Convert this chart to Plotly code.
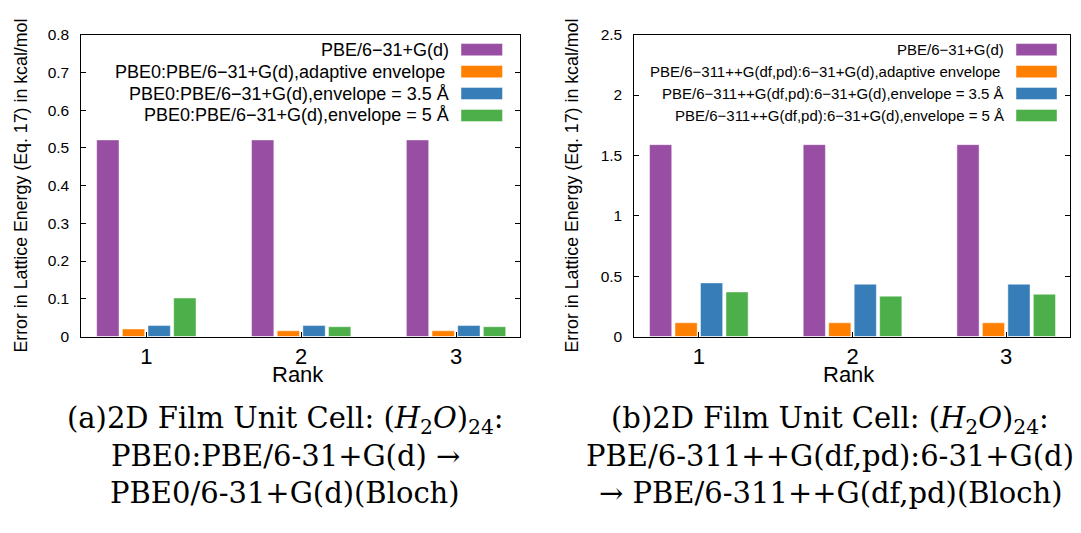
import plotly.graph_objects as go

W, H = 1081, 533

# ---------------- data ----------------
ranks = [1, 2, 3]

left_names = [
    "PBE/6\u221231+G(d)",
    "PBE0:PBE/6\u221231+G(d),adaptive envelope",
    "PBE0:PBE/6\u221231+G(d),envelope = 3.5 \u00c5",
    "PBE0:PBE/6\u221231+G(d),envelope = 5 \u00c5",
]
left_pbe = [0.521, 0.521, 0.521]
left_adaptive = [0.020, 0.015, 0.015]
left_env35 = [0.029, 0.029, 0.029]
left_env5 = [0.102, 0.026, 0.026]

right_names = [
    "PBE/6\u221231+G(d)",
    "PBE/6\u2212311++G(df,pd):6\u221231+G(d),adaptive envelope",
    "PBE/6\u2212311++G(df,pd):6\u221231+G(d),envelope = 3.5 \u00c5",
    "PBE/6\u2212311++G(df,pd):6\u221231+G(d),envelope = 5 \u00c5",
]
right_pbe = [1.589, 1.589, 1.589]
right_adaptive = [0.113, 0.113, 0.113]
right_env35 = [0.444, 0.433, 0.433]
right_env5 = [0.369, 0.334, 0.350]

y_title = "Error in Lattice Energy (Eq. 17) in kcal/mol"
x_title = "Rank"
left_ticks = [0, 0.1, 0.2, 0.3, 0.4, 0.5, 0.6, 0.7, 0.8]
right_ticks = [0, 0.5, 1, 1.5, 2, 2.5]

caption_left = [
    "(a)2D Film Unit Cell: (<i>H</i><sub>2</sub><i>O</i>)<sub>24</sub>:",
    "PBE0:PBE/6-31+G(d) \u2192",
    "PBE0/6-31+G(d)(Bloch)",
]
caption_right = [
    "(b)2D Film Unit Cell: (<i>H</i><sub>2</sub><i>O</i>)<sub>24</sub>:",
    "PBE/6-311++G(df,pd):6-31+G(d)",
    "\u2192 PBE/6-311++G(df,pd)(Bloch)",
]

colors = ["#984EA3", "#FF7F00", "#377EB8", "#4DAF4A"]

# ---------------- helpers ----------------
def px(x):
    return x / W

def py(y):
    return 1 - y / H

fig = go.Figure()

left_vals = [left_pbe, left_adaptive, left_env35, left_env5]
right_vals = [right_pbe, right_adaptive, right_env35, right_env5]

edge = "rgba(255,255,255,0.45)"
for i, (nm, vals) in enumerate(zip(left_names, left_vals)):
    fig.add_trace(go.Bar(x=ranks, y=vals, name=nm, xaxis="x", yaxis="y",
                         marker=dict(color=colors[i], line=dict(color=edge, width=1)),
                         showlegend=False))
for i, (nm, vals) in enumerate(zip(right_names, right_vals)):
    fig.add_trace(go.Bar(x=ranks, y=vals, name=nm, xaxis="x2", yaxis="y2",
                         marker=dict(color=colors[i], line=dict(color=edge, width=1)),
                         showlegend=False))

font_sans = "Liberation Sans, Arial, sans-serif"
font_serif = "DejaVu Serif, serif"

ydom = [py(338.3), py(26.5)]
common_x = dict(tickmode="array", tickvals=ranks, ticktext=[str(r) for r in ranks],
                range=[0.58, 3.415], showline=True, linecolor="black", linewidth=1,
                mirror=True, ticks="inside", ticklen=5, tickcolor="black",
                showgrid=False, zeroline=False,
                tickfont=dict(family=font_sans, size=22, color="black"))
common_y = dict(showline=True, linecolor="black", linewidth=1, mirror="allticks",
                ticks="inside", ticklen=5, tickcolor="black", showgrid=False,
                zeroline=False, ticklabelstandoff=8,
                tickfont=dict(family=font_sans, size=15.5, color="black"))

fig.update_layout(
    width=W, height=H,
    margin=dict(l=0, r=0, t=0, b=0),
    paper_bgcolor="white", plot_bgcolor="white",
    barmode="group", bargap=0.337, bargroupgap=0.13,
    showlegend=False,
    xaxis=dict(domain=[px(81.3), px(520.3)], anchor="y", **common_x),
    yaxis=dict(domain=ydom, anchor="x", range=[0, 0.8], tickvals=left_ticks,
               ticktext=[f"{t:g}" for t in left_ticks], **common_y),
    xaxis2=dict(domain=[px(634.3), px(1070)], anchor="y2", **common_x),
    yaxis2=dict(domain=ydom, anchor="x2", range=[0, 2.5], tickvals=right_ticks,
                ticktext=[f"{t:g}" for t in right_ticks], **common_y),
)

annotations = []
shapes = []

# axis titles
for xc in (21, 572):
    annotations.append(dict(x=px(xc), y=py(182.4), xref="paper", yref="paper",
                            text=y_title, textangle=-90, showarrow=False,
                            xanchor="center", yanchor="middle",
                            font=dict(family=font_sans, size=17.8, color="black")))
for xc in (298, 849):
    annotations.append(dict(x=px(xc), y=py(378), xref="paper", yref="paper",
                            text=x_title, showarrow=False, xanchor="center", yanchor="middle",
                            font=dict(family=font_sans, size=22, color="black")))

# manual legends (text right-aligned, swatch on the right)
leg_y = [42, 64.7, 87.3, 110]
for names, txt_right, sw0, sw1, fsize in ((left_names, 450.6, 461.0, 502.5, 18),
                                          (right_names, 1006.0, 1016.0, 1057.0, 15.0)):
    for i, nm in enumerate(names):
        shift = -4 if i == 1 else 0
        annotations.append(dict(x=px(txt_right), y=py(leg_y[i]), xref="paper", yref="paper",
                                text=nm, showarrow=False, xanchor="right", yanchor="middle",
                                xshift=shift,
                                font=dict(family=font_sans, size=fsize, color="black")))
        shapes.append(dict(type="rect", xref="paper", yref="paper",
                           x0=px(sw0), x1=px(sw1), y0=py(leg_y[i] + 6.3), y1=py(leg_y[i] - 6.3),
                           fillcolor=colors[i], line=dict(color=edge, width=1)))

# captions
cap_y = [425, 462, 500]
for lines, xc in ((caption_left, 285), (caption_right, 830)):
    for t, yc in zip(lines, cap_y):
        annotations.append(dict(x=px(xc), y=py(yc), xref="paper", yref="paper",
                                text=t, showarrow=False, xanchor="center", yanchor="middle",
                                font=dict(family=font_serif, size=29, color="black")))

fig.update_layout(annotations=annotations, shapes=shapes)

fig.write_html("out.html")
